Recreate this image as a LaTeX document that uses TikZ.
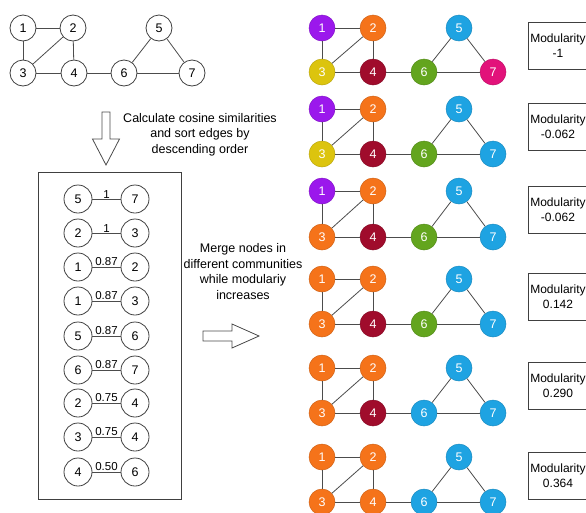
\documentclass[tikz,border=0pt]{standalone}
\usepackage{fontspec}
\setmainfont{Liberation Sans}

\definecolor{cpur}{HTML}{9B18EC}
\definecolor{corg}{HTML}{F5731A}
\definecolor{cyel}{HTML}{DCC40E}
\definecolor{cred}{HTML}{A00C2C}
\definecolor{cgrn}{HTML}{63A51E}
\definecolor{cblu}{HTML}{1EA3E2}
\definecolor{cmag}{HTML}{E2127A}

\tikzset{
  vertex/.style={draw=black!75, line width=0.8pt, circle, minimum size=26pt, inner sep=0pt,
    font=\fontsize{12.5}{12.5}\selectfont},
  cvertex/.style={draw=#1!85!black, line width=0.5pt, fill=#1, circle, minimum size=26pt,
    inner sep=0pt, text=white, font=\fontsize{12.5}{12.5}\selectfont},
  pairnode/.style={draw=black!75, line width=0.8pt, circle, minimum size=28pt, inner sep=0pt,
    font=\fontsize{12.5}{12.5}\selectfont},
  link/.style={draw=black!70, line width=0.8pt},
  weight/.style={above, inner sep=0.6pt, font=\fontsize{11.5}{11.5}\selectfont},
  note/.style={align=center, font=\fontsize{12.5}{15.5}\selectfont},
  modbox/.style={draw=black!75, line width=0.9pt, minimum width=60pt, minimum height=47pt,
    align=center, inner sep=0pt, font=\fontsize{12}{15}\selectfont},
  hollow/.style={draw=black!70, line width=0.8pt, fill=white, line join=miter}
}

\begin{document}
\begin{tikzpicture}[x=1pt, y=-1pt]
\useasboundingbox (0,0) rectangle (586,512);
\clip (0,0) rectangle (586,512);

% input graph
\node[vertex] at (23,28) (a1) {1};
\node[vertex] at (73,28) (a2) {2};
\node[vertex] at (23,73) (a3) {3};
\node[vertex] at (74,73) (a4) {4};
\node[vertex] at (159,28) (a5) {5};
\node[vertex] at (124,73) (a6) {6};
\node[vertex] at (192,73) (a7) {7};
\foreach \u/\v in {1/2,1/3,2/3,2/4,3/4,4/6,5/6,5/7,6/7}
  \draw[link] (a\u) -- (a\v);

% step 1
\draw[hollow] (102,112) -- (110,112) -- (110,139) -- (119.5,139) -- (106,165)
  -- (92.5,139) -- (102,139) -- cycle;
\node[note] at (200,134.5) (calc) {Calculate cosine similarities\\and sort edges by\\descending order};

% sorted edge list
\draw[draw=black!75, line width=0.9pt] (38,172) rectangle (181,499);
\foreach \py/\u/\v/\w [count=\i] in {199/5/7/1, 233/2/3/1, 267/1/2/0.87, 301/1/3/0.87,
    336/5/6/0.87, 370/6/7/0.87, 403/2/4/0.75, 437/3/4/0.75, 472/4/6/0.50} {
  \node[pairnode] at (78,\py) (pl\i) {\u};
  \node[pairnode] at (135,\py) (pr\i) {\v};
  \draw[link] (pl\i) -- node[weight] {\w} (pr\i);
}

% step 2
\node[note] at (243,271.5) (merge) {Merge nodes in\\different communities\\while modulariy\\increases};
\draw[hollow] (203,331) -- (232,331) -- (232,324) -- (259,336) -- (232,348)
  -- (232,341) -- (203,341) -- cycle;

% merging steps
\foreach \r/\ty/\by/\my/\mq/\ca/\cb/\cc/\cd/\ce/\cf/\cg in {
    1/28/72/45.5/-1/cpur/corg/cyel/cred/cblu/cgrn/cmag,
    2/109/154/127/-0.062/cpur/corg/cyel/cred/cblu/cgrn/cblu,
    3/191/237/210/-0.062/cpur/corg/corg/cred/cblu/cgrn/cblu,
    4/279/324/297/0.142/corg/corg/corg/cred/cblu/cgrn/cblu,
    5/368/413/386/0.290/corg/corg/corg/cred/cblu/cblu/cblu,
    6/457/502/475.5/0.364/corg/corg/corg/corg/cblu/cblu/cblu} {
  \node[cvertex=\ca] at (322,\ty) (g\r-1) {1};
  \node[cvertex=\cb] at (373,\ty) (g\r-2) {2};
  \node[cvertex=\cc] at (322,\by) (g\r-3) {3};
  \node[cvertex=\cd] at (373,\by) (g\r-4) {4};
  \node[cvertex=\ce] at (459,\ty) (g\r-5) {5};
  \node[cvertex=\cf] at (424,\by) (g\r-6) {6};
  \node[cvertex=\cg] at (493,\by) (g\r-7) {7};
  \foreach \u/\v in {1/2,1/3,2/3,2/4,3/4,4/6,5/6,5/7,6/7}
    \draw[link] (g\r-\u) -- (g\r-\v);
  \node[modbox] at (558,\my) (m\r) {Modularity\\\mq};
}
\end{tikzpicture}
\end{document}
